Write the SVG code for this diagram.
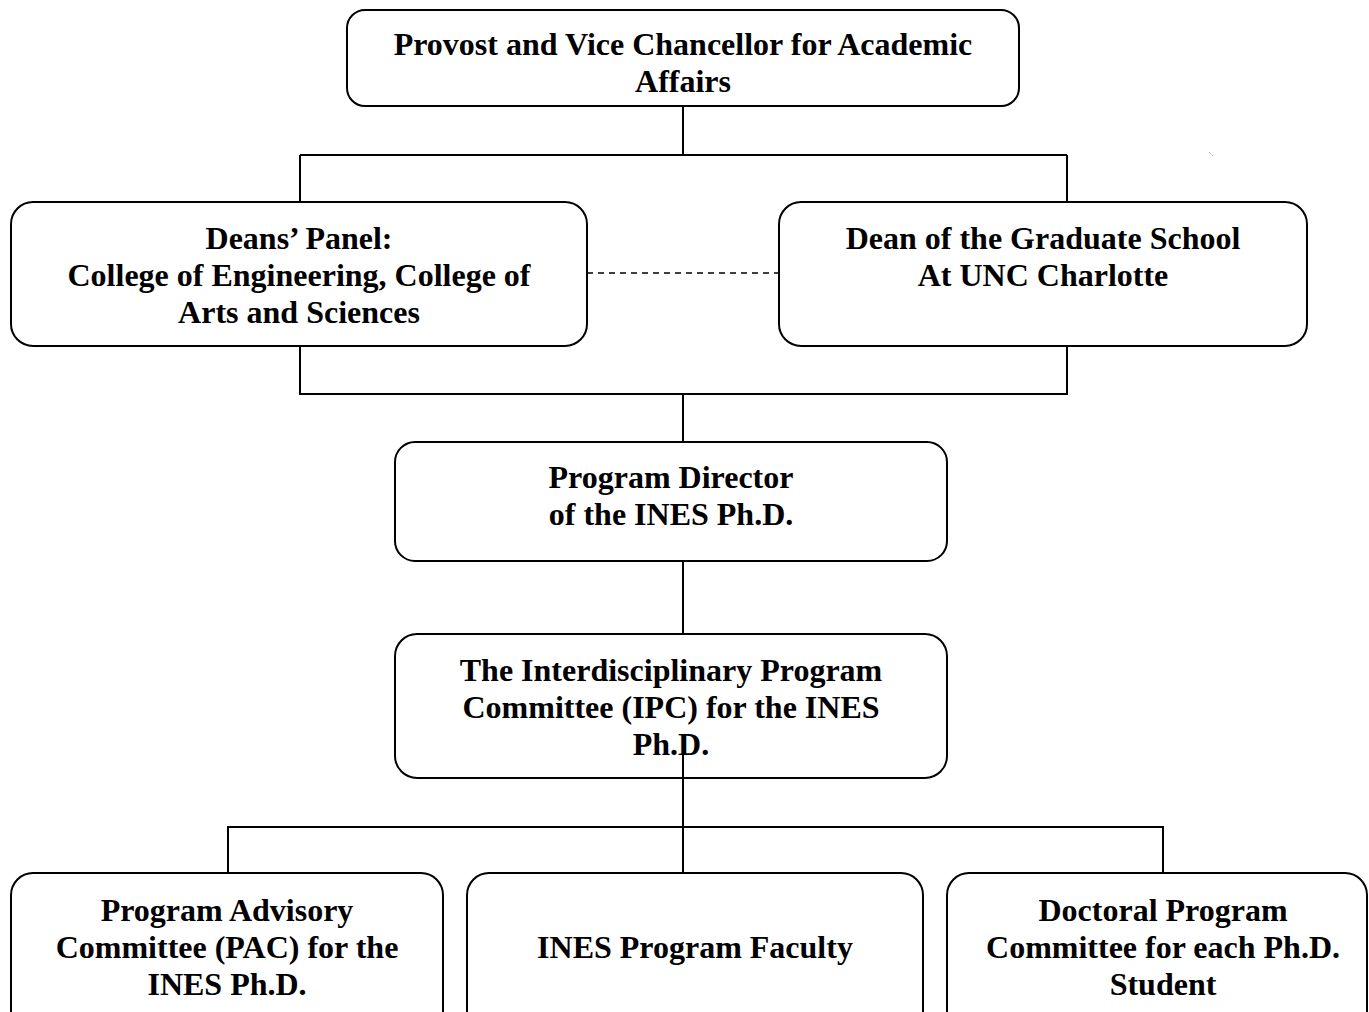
<svg xmlns="http://www.w3.org/2000/svg" width="1369" height="1012" viewBox="0 0 1369 1012">
<style>
.box{fill:#fff;stroke:#000;stroke-width:2}
.t{font-family:"Liberation Serif","Times New Roman",serif;font-weight:bold;font-size:32px;text-anchor:middle;fill:#000}
.c{fill:none;stroke:#000;stroke-width:2}
.d{fill:none;stroke:#000;stroke-width:1.5;stroke-dasharray:6,5}
</style>
<rect width="1369" height="1012" fill="#fff"/>
<g id="connectors">
<path class="c" d="M683 106V155M300 155H1067M300 155V202M1067 155V202"/>
<path class="d" d="M587 273H779"/>
<path class="c" d="M300 346V394H1067V346M683 394V442"/>
<path class="c" d="M683 561V634"/>
<path class="c" d="M228 873V827H1163V873M683 827V873"/>
</g>
<g id="provost">
<rect class="box" x="347" y="10" width="672" height="96" rx="18"/>
<text class="t" x="683" y="55">Provost and Vice Chancellor for Academic</text>
<text class="t" x="683" y="92">Affairs</text>
</g>
<g id="deans">
<rect class="box" x="11" y="202" width="576" height="144" rx="22"/>
<text class="t" x="299" y="249">Deans’ Panel:</text>
<text class="t" x="299" y="286">College of Engineering, College of</text>
<text class="t" x="299" y="323">Arts and Sciences</text>
</g>
<g id="gradschool">
<rect class="box" x="779" y="202" width="528" height="144" rx="22"/>
<text class="t" x="1043" y="249">Dean of the Graduate School</text>
<text class="t" x="1043" y="286">At UNC Charlotte</text>
</g>
<g id="director">
<rect class="box" x="395" y="442" width="552" height="119" rx="20"/>
<text class="t" x="671" y="488">Program Director</text>
<text class="t" x="671" y="525">of the INES Ph.D.</text>
</g>
<g id="ipc">
<rect class="box" x="395" y="634" width="552" height="144" rx="22"/>
<text class="t" x="671" y="681">The Interdisciplinary Program</text>
<text class="t" x="671" y="718">Committee (IPC) for the INES</text>
<text class="t" x="671" y="755">Ph.D.</text>
</g>
<path class="c" d="M683 752V827"/>
<g id="pac">
<rect class="box" x="11" y="873" width="432" height="160" rx="22"/>
<text class="t" x="227" y="921">Program Advisory</text>
<text class="t" x="227" y="958">Committee (PAC) for the</text>
<text class="t" x="227" y="995">INES Ph.D.</text>
</g>
<g id="faculty">
<rect class="box" x="467" y="873" width="456" height="160" rx="22"/>
<text class="t" x="695" y="958">INES Program Faculty</text>
</g>
<g id="doctoral">
<rect class="box" x="947" y="873" width="420" height="160" rx="22"/>
<text class="t" x="1163" y="921">Doctoral Program</text>
<text class="t" x="1163" y="958">Committee for each Ph.D.</text>
<text class="t" x="1163" y="995">Student</text>
</g>
<path d="M1209 152L1213 156" stroke="#999" stroke-width="1" stroke-dasharray="1,1"/>
</svg>
